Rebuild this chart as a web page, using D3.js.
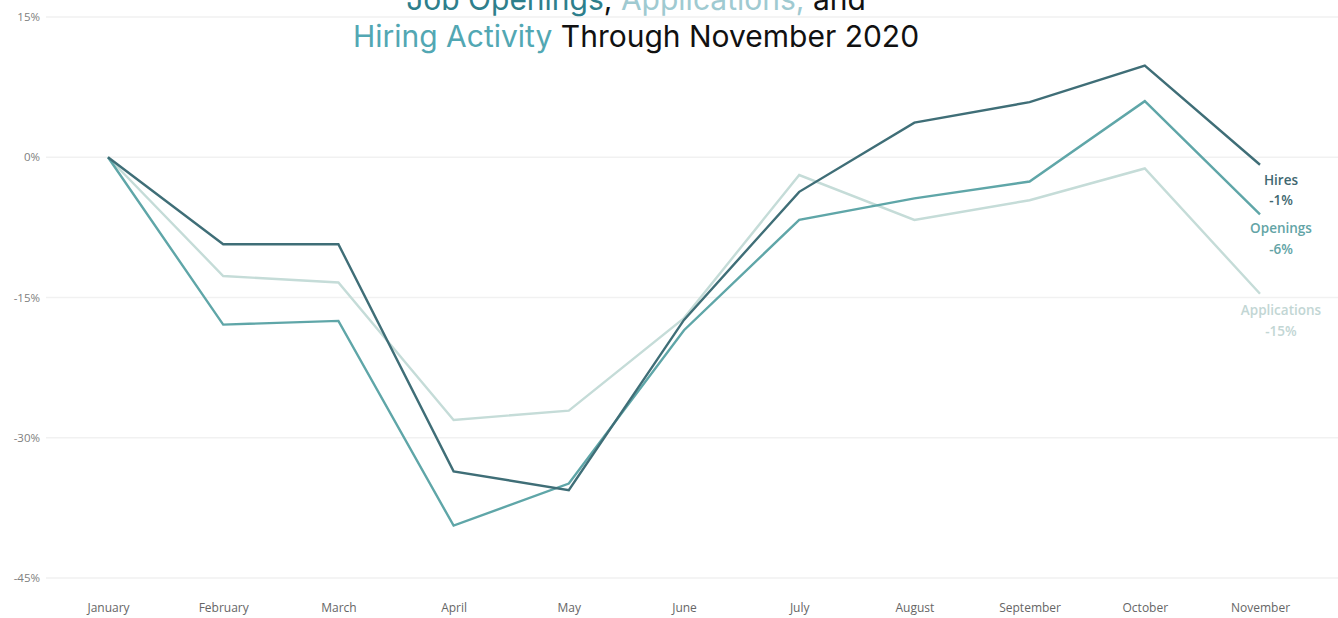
<!DOCTYPE html>
<html>
<head>
<meta charset="utf-8">
<script src="https://cdn.jsdelivr.net/npm/d3@7"></script>
<style>
  html, body { margin: 0; padding: 0; background: #fff; }
  svg { display: block; }
</style>
</head>
<body>
<svg id="chart" width="1338" height="618"></svg>
<script>
// Monthly change vs. January 2020, in percent
const months = ["January", "February", "March", "April", "May", "June",
                "July", "August", "September", "October", "November"];
const hires        = [0, -9.3, -9.3, -33.6, -35.6, -17.4, -3.7, 3.7, 5.9, 9.8, -0.8];
const openings     = [0, -17.9, -17.5, -39.4, -34.9, -18.5, -6.7, -4.4, -2.6, 6.0, -6.1];
const applications = [0, -12.7, -13.4, -28.1, -27.1, -17.2, -1.9, -6.7, -4.6, -1.2, -14.6];
const yTicks = [15, 0, -15, -30, -45];

const series = [
  { name: "Applications", values: applications, color: "#c5dcd8", labelColor: "#c2d6d4" },
  { name: "Openings",     values: openings,     color: "#5fa6a8", labelColor: "#63a4a6" },
  { name: "Hires",        values: hires,        color: "#3f6e77", labelColor: "#3f6870" }
];

const svg = d3.select("#chart");
const W = 1338, H = 618;

const x = d3.scalePoint().domain(months).range([108, 1260]);
const y = d3.scaleLinear().domain([-45, 15]).range([578, 17]);

// Gridlines
svg.append("g")
  .selectAll("line")
  .data(yTicks)
  .join("line")
  .attr("x1", 46).attr("x2", W)
  .attr("y1", d => y(d)).attr("y2", d => y(d))
  .attr("stroke", "#f1f1f1")
  .attr("stroke-width", 1.5);

// Y axis labels
const yAxis = svg.append("g")
  .attr("transform", "translate(40,0)")
  .call(d3.axisLeft(y).tickValues(yTicks).tickFormat(d => d + "%").tickSize(0).tickPadding(0));
yAxis.select(".domain").remove();
yAxis.selectAll("text")
  .attr("font-family", "'Open Sans', sans-serif")
  .attr("font-size", 11.5)
  .attr("fill", "#808080");

// X axis labels
const xAxis = svg.append("g")
  .attr("transform", "translate(0,603)")
  .call(d3.axisBottom(x).tickSize(0).tickPadding(0));
xAxis.select(".domain").remove();
xAxis.selectAll("text")
  .attr("font-family", "'Open Sans', sans-serif")
  .attr("font-size", 12)
  .attr("fill", "#666")
  .attr("dy", "0.71em");

// Lines
const line = d3.line()
  .x((d, i) => x(months[i]))
  .y(d => y(d));

svg.append("g")
  .selectAll("path")
  .data(series)
  .join("path")
  .attr("d", d => line(d.values))
  .attr("fill", "none")
  .attr("stroke", d => d.color)
  .attr("stroke-width", 2.4)
  .attr("stroke-linejoin", "miter");

// End labels
const endLabels = [
  { s: series[2], y1: 185, y2: 205 },
  { s: series[1], y1: 233, y2: 254 },
  { s: series[0], y1: 315, y2: 336 }
];
const lastIdx = months.length - 1;
const lab = svg.append("g")
  .attr("font-family", "'Open Sans', sans-serif")
  .attr("font-size", 13.5)
  .attr("text-anchor", "middle");
endLabels.forEach(l => {
  lab.append("text")
    .attr("x", 1281).attr("y", l.y1)
    .attr("fill", l.s.labelColor)
    .attr("font-weight", 600)
    .text(l.s.name);
  lab.append("text")
    .attr("x", 1281).attr("y", l.y2)
    .attr("fill", l.s.labelColor)
    .attr("font-weight", 600)
    .text(Math.round(l.s.values[lastIdx]) + "%");
});

// Title
const title = svg.append("g")
  .attr("font-family", "Inter, 'Noto Sans', sans-serif")
  .attr("font-size", 30)
  .attr("text-anchor", "middle");
const t1 = title.append("text").attr("x", 636).attr("y", 10);
t1.append("tspan").attr("fill", "#2e7f8c").text("Job Openings");
t1.append("tspan").attr("fill", "#111").text(", ");
t1.append("tspan").attr("fill", "#9fcad1").text("Applications, ");
t1.append("tspan").attr("fill", "#111").text("and");
const t2 = title.append("text").attr("x", 636).attr("y", 47);
t2.append("tspan").attr("fill", "#52a7b3").text("Hiring Activity");
t2.append("tspan").attr("fill", "#111").text(" Through November 2020");
</script>
</body>
</html>
